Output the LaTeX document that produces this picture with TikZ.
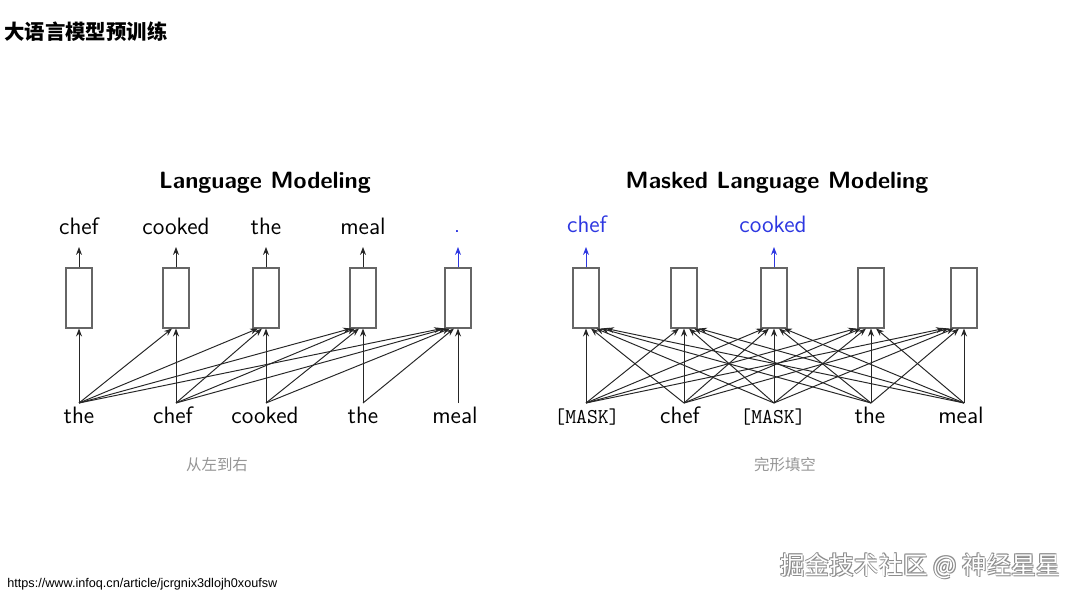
\documentclass[tikz,border=0pt]{standalone}
\usepackage{fontspec}
\newfontfamily\cjk{Noto Sans CJK SC}
\newfontfamily\urlfont{Liberation Sans}
\usetikzlibrary{arrows.meta, positioning, calc}
\definecolor{predblue}{RGB}{45,55,225}
\definecolor{notegray}{RGB}{150,150,150}

\begin{document}
\begin{tikzpicture}[x=0.02cm, y=-0.02cm,
    box/.style={draw=black!60, line width=0.6pt, minimum width=0.52cm, minimum height=1.2cm, inner sep=0pt},
    arr/.style={-{Stealth[length=4.5pt, width=3.4pt]}, line width=0.55pt, draw=black!85},
    word/.style={font=\fontsize{13.5}{16}\selectfont\sffamily, anchor=base, inner sep=0pt},
    mask/.style={font=\fontsize{12}{14}\selectfont\ttfamily, anchor=base, inner sep=0pt},
    head/.style={font=\fontsize{13.4}{16}\selectfont\sffamily\bfseries, inner sep=0pt},
    note/.style={font=\fontsize{8.8}{10}\selectfont\cjk, text=notegray, inner sep=0pt}]
    % Page
    \fill[white] (0,0) rectangle (1080,598);
    \useasboundingbox (0,0) rectangle (1080,598);
    \node[anchor=west, inner sep=0pt, font=\fontsize{11.6}{14}\selectfont\cjk\bfseries] (pagetitle) at (4,32) {大语言模型预训练};

    % Left: Language Modeling
    \node[head] (lmtitle) at (265,183) {Language Modeling};
    \foreach \x [count=\i] in {79,176,266,363,458}{
        \node[box] (lb\i) at (\x,298) {};
        \coordinate (lt\i) at (\x,247);
        \coordinate (ls\i) at (\x,403);
    }
    \foreach \x/\w [count=\i] in {79/chef,176/cooked,266/the,363/meal}{
        \node[word] (lo\i) at (\x,235) {\w};
        \draw[arr] (lb\i.north) -- (lt\i);
    }
    \node[word, text=predblue] (lo5) at (457,233) {.};
    \draw[arr, draw=predblue] (lb5.north) -- (lt5);
    \foreach \x/\w [count=\i] in {79/the,173/chef,265/cooked,363/the,455/meal}
        \node[word] (li\i) at (\x,423) {\w};
    \foreach \j in {1,...,5}
        \foreach \i in {1,...,\j}
            \draw[arr] (ls\i) -- ($(lb\j.south)+({(\i-\j)*4},0)$);
    \node[note] (lmnote) at (217,465) {从左到右};

    % Right: Masked Language Modeling
    \node[head] (mlmtitle) at (777,183) {Masked Language Modeling};
    \foreach \x [count=\i] in {586,684,774,871,964}{
        \node[box] (rb\i) at (\x,298) {};
        \coordinate (rt\i) at (\x,247);
        \coordinate (rs\i) at (\x,403);
    }
    \node[word, text=predblue] (ro1) at (587,233) {chef};
    \node[word, text=predblue] (ro3) at (773,233) {cooked};
    \draw[arr, draw=predblue] (rb1.north) -- (rt1);
    \draw[arr, draw=predblue] (rb3.north) -- (rt3);
    \node[mask] (ri1) at (587,423) {[MASK]};
    \node[word] (ri2) at (680,423) {chef};
    \node[mask] (ri3) at (773,423) {[MASK]};
    \node[word] (ri4) at (870,423) {the};
    \node[word] (ri5) at (961,423) {meal};
    \foreach \j in {1,...,5}
        \foreach \i in {1,...,5}
            \draw[arr] (rs\i) -- ($(rb\j.south)+({(\i-\j)*5},0)$);
    \node[note] (mlmnote) at (785,465) {完形填空};

    % Footer
    \node[anchor=west, inner sep=0pt, font=\fontsize{7.2}{8}\selectfont\urlfont] (source) at (7,584) {https://www.infoq.cn/article/jcrgnix3dlojh0xoufsw};
    \foreach \dx/\dy in {0.8/0.8,-0.6/0.6,0.6/-0.6,-0.6/-0.6}
        \node[anchor=east, inner sep=0pt, font=\fontsize{14}{16}\selectfont\cjk, text=black!45] at (1061+\dx,566+\dy) {掘金技术社区 @ 神经星星};
    \node[anchor=east, inner sep=0pt, font=\fontsize{14}{16}\selectfont\cjk, text=white] (mark) at (1061,566) {掘金技术社区 @ 神经星星};
\end{tikzpicture}
\end{document}
